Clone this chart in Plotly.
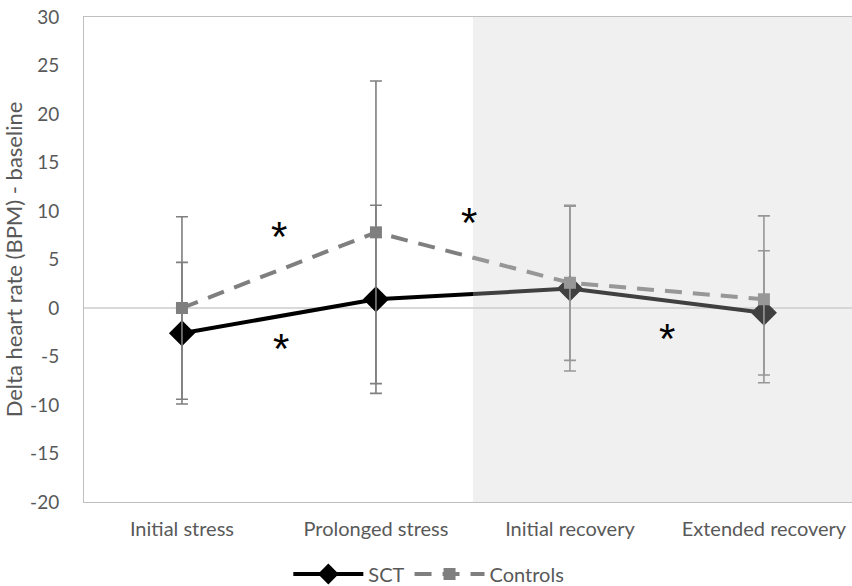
import plotly.graph_objects as go

categories = ["Initial stress", "Prolonged stress", "Initial recovery", "Extended recovery"]
sct_values = [-2.6, 0.9, 2.0, -0.5]
sct_err_plus = [7.3, 9.7, 8.5, 6.4]
sct_err_minus = [7.3, 9.7, 8.5, 6.4]
ctrl_values = [0.0, 7.8, 2.6, 0.9]
ctrl_err_plus = [9.4, 15.6, 8.0, 8.6]
ctrl_err_minus = [9.4, 15.6, 8.0, 8.6]
y_ticks = list(range(-20, 31, 5))
y_tick_labels = [str(v) for v in y_ticks]
# significance asterisks: (x position in category units, y value)
star_x = [0.5, 1.48, 0.51, 2.5]
star_y = [8.1, 9.5, -3.5, -2.4]

FONT = "Lato"
TXT = "#595959"

fig = go.Figure()
fig.add_trace(go.Scatter(
    x=list(range(len(categories))), y=sct_values, name="SCT", mode="lines+markers",
    line=dict(color="black", width=4),
    marker=dict(symbol="diamond", size=20, color="black"),
    error_y=dict(type="data", symmetric=False, array=sct_err_plus, arrayminus=sct_err_minus,
                 color="#7f7f7f", thickness=1.6, width=6),
))
fig.add_trace(go.Scatter(
    x=list(range(len(categories))), y=ctrl_values, name="Controls", mode="lines+markers",
    line=dict(color="#7f7f7f", width=4, dash="17px,11px"),
    marker=dict(symbol="square", size=12, color="#7f7f7f"),
    error_y=dict(type="data", symmetric=False, array=ctrl_err_plus, arrayminus=ctrl_err_minus,
                 color="#7f7f7f", thickness=1.6, width=6),
))

for sx, sy in zip(star_x, star_y):
    fig.add_annotation(x=sx, y=sy, text="*", showarrow=False,
                       font=dict(family="Liberation Sans", size=42, color="black"),
                       xanchor="center", yanchor="middle", yshift=-7)

fig.add_shape(type="rect", xref="x", yref="paper", x0=1.5, x1=3.46, y0=0, y1=1,
              fillcolor="rgba(206,206,206,0.31)", line=dict(width=0), layer="above")

fig.update_layout(
    width=852, height=586,
    margin=dict(l=84, r=0, t=17, b=84, autoexpand=False),
    paper_bgcolor="white", plot_bgcolor="white",
    font=dict(family=FONT, color=TXT, size=20),
    showlegend=True,
    legend=dict(orientation="h", x=0.449, xanchor="center", y=-0.1485, yanchor="middle",
                font=dict(family=FONT, size=20, color=TXT), itemwidth=70),
)
fig.update_xaxes(
    range=[-0.505, 3.454], tickvals=list(range(len(categories))), ticktext=categories,
    showgrid=False, zeroline=False, showline=True, linecolor="#bfbfbf", linewidth=1,
    mirror=True, ticks="", automargin=False, ticklabelstandoff=9,
    tickfont=dict(family=FONT, size=20, color=TXT),
)
fig.update_yaxes(
    range=[-20, 30], tickvals=y_ticks, ticktext=y_tick_labels, showgrid=False,
    zeroline=True, zerolinecolor="#d9d9d9", zerolinewidth=1.5,
    showline=True, linecolor="#bfbfbf", linewidth=1, ticks="", automargin=False,
    ticklabelstandoff=20,
    tickfont=dict(family=FONT, size=19, color=TXT),
    title=dict(text="Delta heart rate (BPM) - baseline", font=dict(family=FONT, size=22, color=TXT), standoff=10),
)
fig.write_html("out.html", config={"displayModeBar": False},
               post_script="document.body.style.margin='0';document.body.style.overflow='hidden';")
